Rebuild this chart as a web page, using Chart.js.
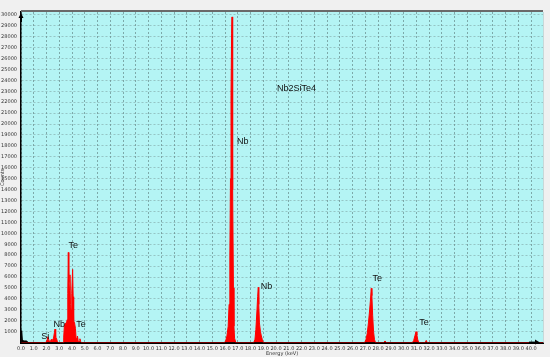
<!DOCTYPE html>
<html>
<head>
<meta charset="utf-8">
<script src="https://cdn.jsdelivr.net/npm/chart.js@4/dist/chart.umd.min.js"></script>
<style>
html,body{margin:0;padding:0;background:#f0f0f0;}
canvas{display:block;}
</style>
</head>
<body>
<canvas id="c" width="550" height="357"></canvas>
<script>
// Spectrum: energy (keV) and counts
const energies = [
  0.0, 0.95, 1.95, 2.05, 2.12, 2.2, 2.3, 2.38, 2.45, 2.55, 2.62, 2.67, 2.72, 2.78, 2.85, 2.95,
  3.3, 3.35, 3.4, 3.48, 3.55, 3.62, 3.67, 3.71, 3.75, 3.8, 3.84, 3.88, 3.93, 3.98, 4.05, 4.09, 4.13, 4.2, 4.27, 4.32, 4.38, 4.43, 4.48, 4.55, 4.62, 4.68, 4.75,
  15.95, 16.05, 16.15, 16.25, 16.32, 16.38, 16.43, 16.47, 16.52, 16.55, 16.58, 16.62, 16.66, 16.7, 16.75, 16.85,
  18.25, 18.35, 18.42, 18.5, 18.56, 18.61, 18.65, 18.7, 18.78, 18.85, 18.92, 19.0,
  26.95, 27.05, 27.15, 27.25, 27.33, 27.4, 27.47, 27.52, 27.58, 27.65, 27.72, 27.8,
  28.45, 28.55, 28.65,
  30.7, 30.8, 30.9, 30.98, 31.05, 31.12, 31.2,
  31.7, 31.78, 31.86, 40.94
];
const counts = [
  0, 0, 0, 250, 540, 150, 100, 300, 200, 400, 900, 1240, 500, 400, 100, 0,
  0, 500, 1500, 1800, 1700, 2100, 4500, 8250, 5500, 4800, 6200, 3500, 3000, 4500, 6700, 4200, 2000, 1800, 1300, 400, 250, 600, 200, 100, 350, 100, 0,
  0, 150, 600, 1500, 3500, 8000, 15000, 22600, 28300, 29800, 25000, 14000, 5000, 1500, 400, 0,
  0, 300, 1200, 2800, 4200, 5060, 3500, 1800, 1000, 600, 300, 0,
  0, 250, 800, 1800, 2800, 3800, 4970, 4300, 2500, 1000, 300, 0,
  0, 150, 0,
  0, 200, 650, 1000, 700, 250, 0,
  0, 200, 0, 0
];
// Noise (zero) peak drawn in black
const noiseEnergies = [0.0, 0.05, 0.1, 0.2, 0.45, 0.55];
const noiseCounts = [0, 1100, 300, 150, 150, 0];

// Peak annotations
const labelTexts = ["Nb2SiTe4", "Nb", "Nb", "Te", "Te", "Te", "Nb", "Te", "Si"];
const labelEnergies = [21.6, 17.4, 19.25, 27.95, 31.6, 4.1, 3.0, 4.7, 1.9];
const labelCounts = [23250, 18440, 5090, 5820, 1880, 8840, 1700, 1610, 600];

// Axis settings
const xMin = 0, xMax = 40.94, xStep = 1, xLastTick = 40;
const yMin = 0, yMax = 30250, yStep = 1000, yLastTick = 30000;

const spectrum = energies.map((e, i) => ({x: e, y: counts[i]}));
const noise = noiseEnergies.map((e, i) => ({x: e, y: noiseCounts[i]}));

const areaPlugin = {
  id: 'area',
  beforeDraw(chart) {
    const {ctx, chartArea: a} = chart;
    ctx.save();
    ctx.fillStyle = '#b4f4f4';
    ctx.fillRect(a.left, a.top, a.right - a.left, a.bottom - a.top);
    ctx.restore();
  },
  afterDraw(chart) {
    const {ctx, chartArea: a, scales} = chart;
    ctx.save();
    // top border
    ctx.strokeStyle = '#6a6a6a';
    ctx.lineWidth = 2;
    ctx.beginPath();
    ctx.moveTo(a.left, a.top - 1);
    ctx.lineTo(a.right, a.top - 1);
    ctx.stroke();
    ctx.strokeStyle = '#c8d8d8';
    ctx.lineWidth = 1;
    ctx.beginPath();
    ctx.moveTo(a.right + 0.5, a.top);
    ctx.lineTo(a.right + 0.5, a.bottom);
    ctx.stroke();
    // arrows
    ctx.fillStyle = '#000';
    ctx.beginPath();
    ctx.moveTo(a.right - 3, a.bottom);
    ctx.lineTo(a.right - 8, a.bottom - 3);
    ctx.lineTo(a.right - 8, a.bottom + 2);
    ctx.closePath();
    ctx.fill();
    ctx.fillRect(a.right - 14, a.bottom - 1, 7, 2);
    ctx.beginPath();
    ctx.moveTo(a.left, a.top + 1);
    ctx.lineTo(a.left - 2.5, a.top + 6);
    ctx.lineTo(a.left + 2.5, a.top + 6);
    ctx.closePath();
    ctx.fill();
    ctx.fillRect(a.left - 1, a.top + 5, 2, 5);
    // labels
    ctx.fillStyle = '#111';
    ctx.font = '9px "Liberation Sans", Arial, sans-serif';
    ctx.textAlign = 'center';
    ctx.textBaseline = 'middle';
    labelTexts.forEach((t, i) => {
      ctx.fillText(t, scales.x.getPixelForValue(labelEnergies[i]), scales.y.getPixelForValue(labelCounts[i]));
    });
    ctx.restore();
  }
};

new Chart(document.getElementById('c'), {
  type: 'line',
  data: {
    datasets: [
      {
        data: noise,
        borderColor: '#000',
        backgroundColor: '#000',
        borderWidth: 1,
        pointRadius: 0,
        fill: 'origin',
        tension: 0
      },
      {
        data: spectrum,
        borderColor: '#ff0000',
        backgroundColor: '#ff0000',
        borderWidth: 1,
        pointRadius: 0,
        fill: 'origin',
        tension: 0
      }
    ]
  },
  options: {
    responsive: false,
    animation: false,
    devicePixelRatio: 1,
    layout: {padding: {left: 0, top: 12, right: 7, bottom: 0}},
    plugins: {legend: {display: false}, tooltip: {enabled: false}},
    scales: {
      x: {
        type: 'linear',
        min: xMin,
        max: xMax,
        afterBuildTicks(s) {
          const out = [];
          for (let v = xMin; v <= xLastTick + 1e-9; v += xStep) out.push({value: v});
          s.ticks = out;
        },
        afterFit(s) { s.height = 14.4; },
        ticks: {
          stepSize: xStep,
          autoSkip: false,
          maxRotation: 0,
          padding: 3,
          color: '#333',
          font: {size: 5, family: 'DejaVu Sans'},
          callback: v => Number(v).toFixed(1)
        },
        grid: {
          color: 'rgba(80,110,110,0.55)',
          lineWidth: 1,
          drawTicks: false
        },
        border: {display: true, color: '#000', width: 2, dash: [2, 2]},
        title: {display: true, text: 'Energy (keV)', color: '#333', font: {size: 5, family: 'DejaVu Sans'}, padding: 0}
      },
      y: {
        type: 'linear',
        min: yMin,
        max: yMax,
        afterBuildTicks(s) {
          const out = [];
          for (let v = yStep; v <= yLastTick; v += yStep) out.push({value: v});
          s.ticks = out;
        },
        afterFit(s) { s.width = 21; },
        ticks: {
          stepSize: yStep,
          autoSkip: false,
          padding: 4,
          color: '#333',
          font: {size: 5, family: 'DejaVu Sans'},
          callback: v => String(v)
        },
        grid: {
          color: 'rgba(110,140,140,0.45)',
          lineWidth: 1,
          drawTicks: false
        },
        border: {display: true, color: '#000', width: 1.5, dash: [2, 2]},
        title: {display: true, text: 'Counts', color: '#333', font: {size: 5, family: 'DejaVu Sans'}, padding: 0}
      }
    }
  },
  plugins: [areaPlugin]
});
</script>
</body>
</html>
